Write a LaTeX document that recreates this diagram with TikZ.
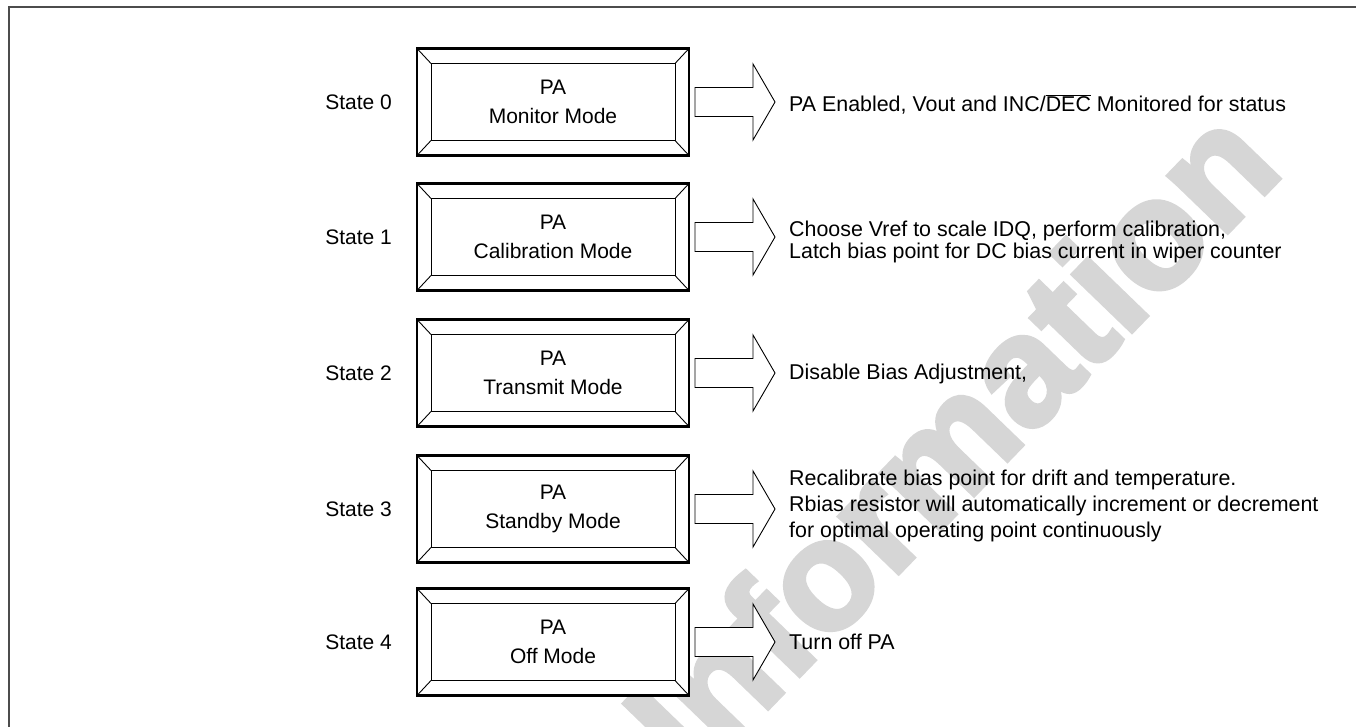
\documentclass[tikz,border=0pt]{standalone}
\usepackage{fontspec}
\setmainfont{Liberation Sans}
\newfontface\wmfont[FakeBold=3]{Liberation Sans Bold}
\usetikzlibrary{calc}
\begin{document}
\begin{tikzpicture}[x=1pt,y=-1pt,
  outerbox/.style={draw, line width=2.2pt, fill=white, minimum width=272pt, minimum height=107pt,
    inner sep=0pt, outer sep=0pt, align=center, font=\fontsize{21}{29}\selectfont},
  bevel/.style={line width=0.9pt},
  blockarrow/.style={draw, line width=0.9pt, fill=white, line join=miter},
  lbl/.style={font=\fontsize{21}{24}\selectfont, inner sep=0pt, anchor=east},
  desc/.style={font=\fontsize{21.4}{22}\selectfont, inner sep=0pt, anchor=west, align=left},
  descwide/.style={desc, font=\fontsize{21.4}{26}\selectfont},
  wmark/.style={rotate=46, text=black!16, inner sep=0pt, font=\fontsize{155}{155}\wmfont}]
\useasboundingbox (0,0) rectangle (1356,727);
\fill[white] (0,0) rectangle (1356,727);
\draw[line width=1.6pt, black!70] (9,727) -- (9,7) -- (1356,7);
% watermark
\node[wmark] (wm) at (950,440) {Information};
% boxes
\foreach \i/\c/\m in {0/102/Monitor Mode, 1/237/Calibration Mode, 2/373/Transmit Mode, 3/509/Standby Mode, 4/642/Off Mode}{
  \node[outerbox] (b\i) at (553,\c) {PA\\\m};
  \draw[bevel] ($(b\i.north west)+(14,15)$) rectangle ($(b\i.south east)+(-14,-15)$);
  \draw[bevel] (b\i.north west) -- ++(14,15);
  \draw[bevel] (b\i.north east) -- ++(-14,15);
  \draw[bevel] (b\i.south west) -- ++(14,-15);
  \draw[bevel] (b\i.south east) -- ++(-14,-15);
  \node[lbl] (s\i) at (392,\c) {State \i};
  \coordinate (a\i) at ($(b\i.east)+(6,0)$);
  \draw[blockarrow] ($(a\i)+(0,-14.5)$) -- ++(58,0) -- ++(0,-23.5) -- ++(22,38) -- ++(-22,38)
     -- ++(0,-23.5) -- ++(-58,0) -- cycle;
}
\node[desc] (d0) at (789,104) {PA Enabled, Vout and INC/$\overline{\mbox{DEC}}$ Monitored for status};
\node[desc] (d1) at (789,242) {Choose Vref to scale IDQ, perform calibration,\\Latch bias point for DC bias current in wiper counter};
\node[desc] (d2) at (789,374) {Disable Bias Adjustment,};
\node[descwide] (d3) at (789,506) {Recalibrate bias point for drift and temperature.\\Rbias resistor will automatically increment or decrement\\for optimal operating point continuously};
\node[desc] (d4) at (789,642) {Turn off PA};
\end{tikzpicture}
\end{document}
